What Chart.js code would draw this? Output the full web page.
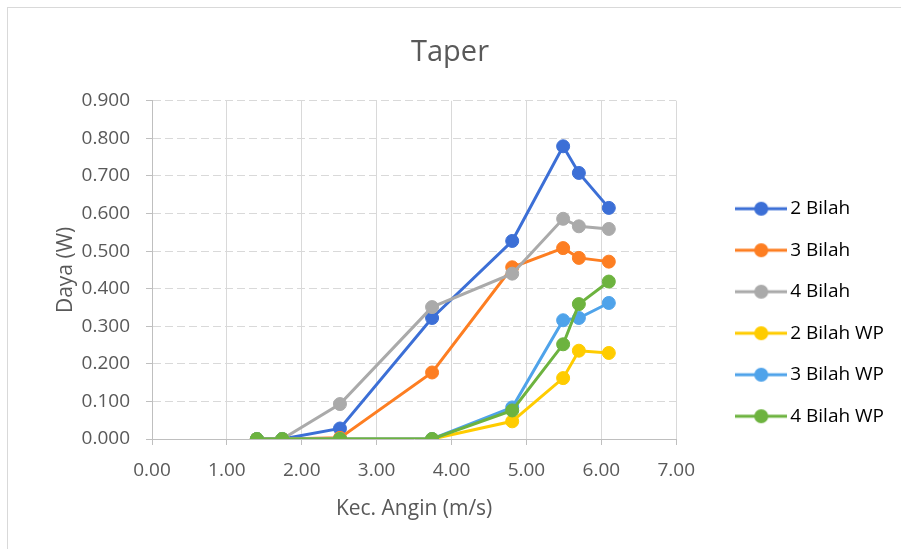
<!DOCTYPE html>
<html>
<head>
<meta charset="utf-8">
<script src="https://cdn.jsdelivr.net/npm/chart.js@4/dist/chart.umd.min.js"></script>
<style>
  html, body { margin: 0; padding: 0; background: #fff; overflow: hidden; }
  #frame { position: absolute; left: 7px; top: 7px; width: 1000px; height: 1000px; border: 1px solid #d9d9d9; }
  #wrap { position: absolute; left: 0; top: 0; width: 901px; height: 549px; }
</style>
</head>
<body>
<div id="frame"></div>
<div id="wrap"><canvas id="chart" width="901" height="549"></canvas></div>
<script>
// kecepatan angin (m/s)
const windSpeed = [1.40, 1.74, 2.51, 3.74, 4.81, 5.49, 5.70, 6.10];

// daya (W) per konfigurasi bilah
const bilah2 = [0, 0, 0.028, 0.322, 0.527, 0.779, 0.708, 0.615];
const bilah3 = [0, 0, 0.003, 0.177, 0.457, 0.508, 0.482, 0.472];
const bilah4 = [0, 0, 0.093, 0.351, 0.440, 0.586, 0.566, 0.559];
const bilah2WP = [0, 0, 0, 0, 0.047, 0.162, 0.235, 0.229];
const bilah3WP = [0, 0, 0, 0, 0.084, 0.316, 0.322, 0.362];
const bilah4WP = [0, 0, 0, 0, 0.076, 0.252, 0.359, 0.419];

const seriesNames = ['2 Bilah', '3 Bilah', '4 Bilah', '2 Bilah WP', '3 Bilah WP', '4 Bilah WP'];
const seriesValues = [bilah2, bilah3, bilah4, bilah2WP, bilah3WP, bilah4WP];
const seriesColors = ['#3c6fd6', '#fd7e22', '#aaaaaa', '#ffcc00', '#4fa3ea', '#6db33f'];

const xTicks = [0, 1, 2, 3, 4, 5, 6, 7];
const yTicks = [0, 0.1, 0.2, 0.3, 0.4, 0.5, 0.6, 0.7, 0.8, 0.9];

const FONT = "'Open Sans', 'DejaVu Sans', sans-serif";
const TEXT = '#595959';

// legend marker: short line with a dot, like the spreadsheet legend
function legendIcon(color) {
  const c = document.createElement('canvas');
  c.width = 52;
  c.height = 16;
  const ctx = c.getContext('2d');
  ctx.strokeStyle = color;
  ctx.lineWidth = 3;
  ctx.beginPath();
  ctx.moveTo(0, 8);
  ctx.lineTo(52, 8);
  ctx.stroke();
  ctx.fillStyle = color;
  ctx.beginPath();
  ctx.arc(26, 8, 7, 0, Math.PI * 2);
  ctx.fill();
  return c;
}
const icons = seriesColors.map(legendIcon);

// nudge the legend to where the original sits
const legendShift = {
  id: 'legendShift',
  afterLayout(chart) {
    const lg = chart.legend;
    const dx = 43, dy = 38;
    lg.left += dx; lg.right += dx;
    lg.top += dy; lg.bottom += dy;
  }
};

const datasets = seriesNames.map((name, i) => ({
  label: name,
  data: windSpeed.map((x, j) => ({ x: x, y: seriesValues[i][j] })),
  showLine: true,
  borderColor: seriesColors[i],
  backgroundColor: seriesColors[i],
  borderWidth: 3,
  pointRadius: 6.5,
  pointBorderWidth: 1,
  pointHoverRadius: 6.5,
  order: seriesNames.length - i,
}));

new Chart(document.getElementById('chart'), {
  type: 'scatter',
  data: { datasets },
  plugins: [legendShift],
  options: {
    responsive: false,
    animation: false,
    layout: { padding: { left: 49, right: 50, top: 8, bottom: 8 } },
    plugins: {
      title: {
        display: true,
        text: 'Taper',
        color: TEXT,
        font: { family: FONT, size: 29, weight: 'normal' },
        padding: { top: 27, bottom: 31 },
      },
      legend: {
        position: 'right',
        labels: {
          usePointStyle: true,
          pointStyleWidth: 39,
          padding: 22.5,
          color: TEXT,
          font: { family: FONT, size: 19 },
          generateLabels: (chart) => chart.data.datasets.map((ds, i) => ({
            text: ds.label,
            pointStyle: icons[i],
            fillStyle: ds.borderColor,
            strokeStyle: ds.borderColor,
            lineWidth: 0,
            hidden: false,
            datasetIndex: i,
          })),
        },
      },
      tooltip: { enabled: false },
    },
    scales: {
      x: {
        type: 'linear',
        min: 0,
        max: 7,
        afterFit: (scale) => { scale.height = 102; },
        afterBuildTicks: (scale) => { scale.ticks = xTicks.map(v => ({ value: v })); },
        ticks: {
          color: TEXT,
          padding: 14,
          font: { family: FONT, size: 19 },
          callback: (v) => Number(v).toFixed(2),
        },
        grid: { color: '#d9d9d9', lineWidth: 1, tickLength: 6, tickColor: '#bfbfbf' },
        border: { color: '#bfbfbf', width: 1 },
        title: {
          display: true,
          text: 'Kec. Angin (m/s)',
          color: TEXT,
          font: { family: FONT, size: 21 },
          padding: { top: 4, bottom: 19 },
        },
      },
      y: {
        type: 'linear',
        min: 0,
        max: 0.9,
        afterFit: (scale) => { scale.width = 103; },
        afterBuildTicks: (scale) => { scale.ticks = yTicks.map(v => ({ value: v })); },
        ticks: {
          color: TEXT,
          padding: 16,
          font: { family: FONT, size: 19 },
          callback: (v) => Number(v).toFixed(3),
        },
        grid: { color: '#d9d9d9', lineWidth: 1, tickLength: 6, tickColor: '#bfbfbf' },
        border: { color: '#bfbfbf', width: 1, dash: [8, 4] },
        title: {
          display: true,
          text: 'Daya (W)',
          color: TEXT,
          font: { family: FONT, size: 21 },
          padding: { top: 4, bottom: 4 },
        },
      },
    },
  },
});
</script>
</body>
</html>
